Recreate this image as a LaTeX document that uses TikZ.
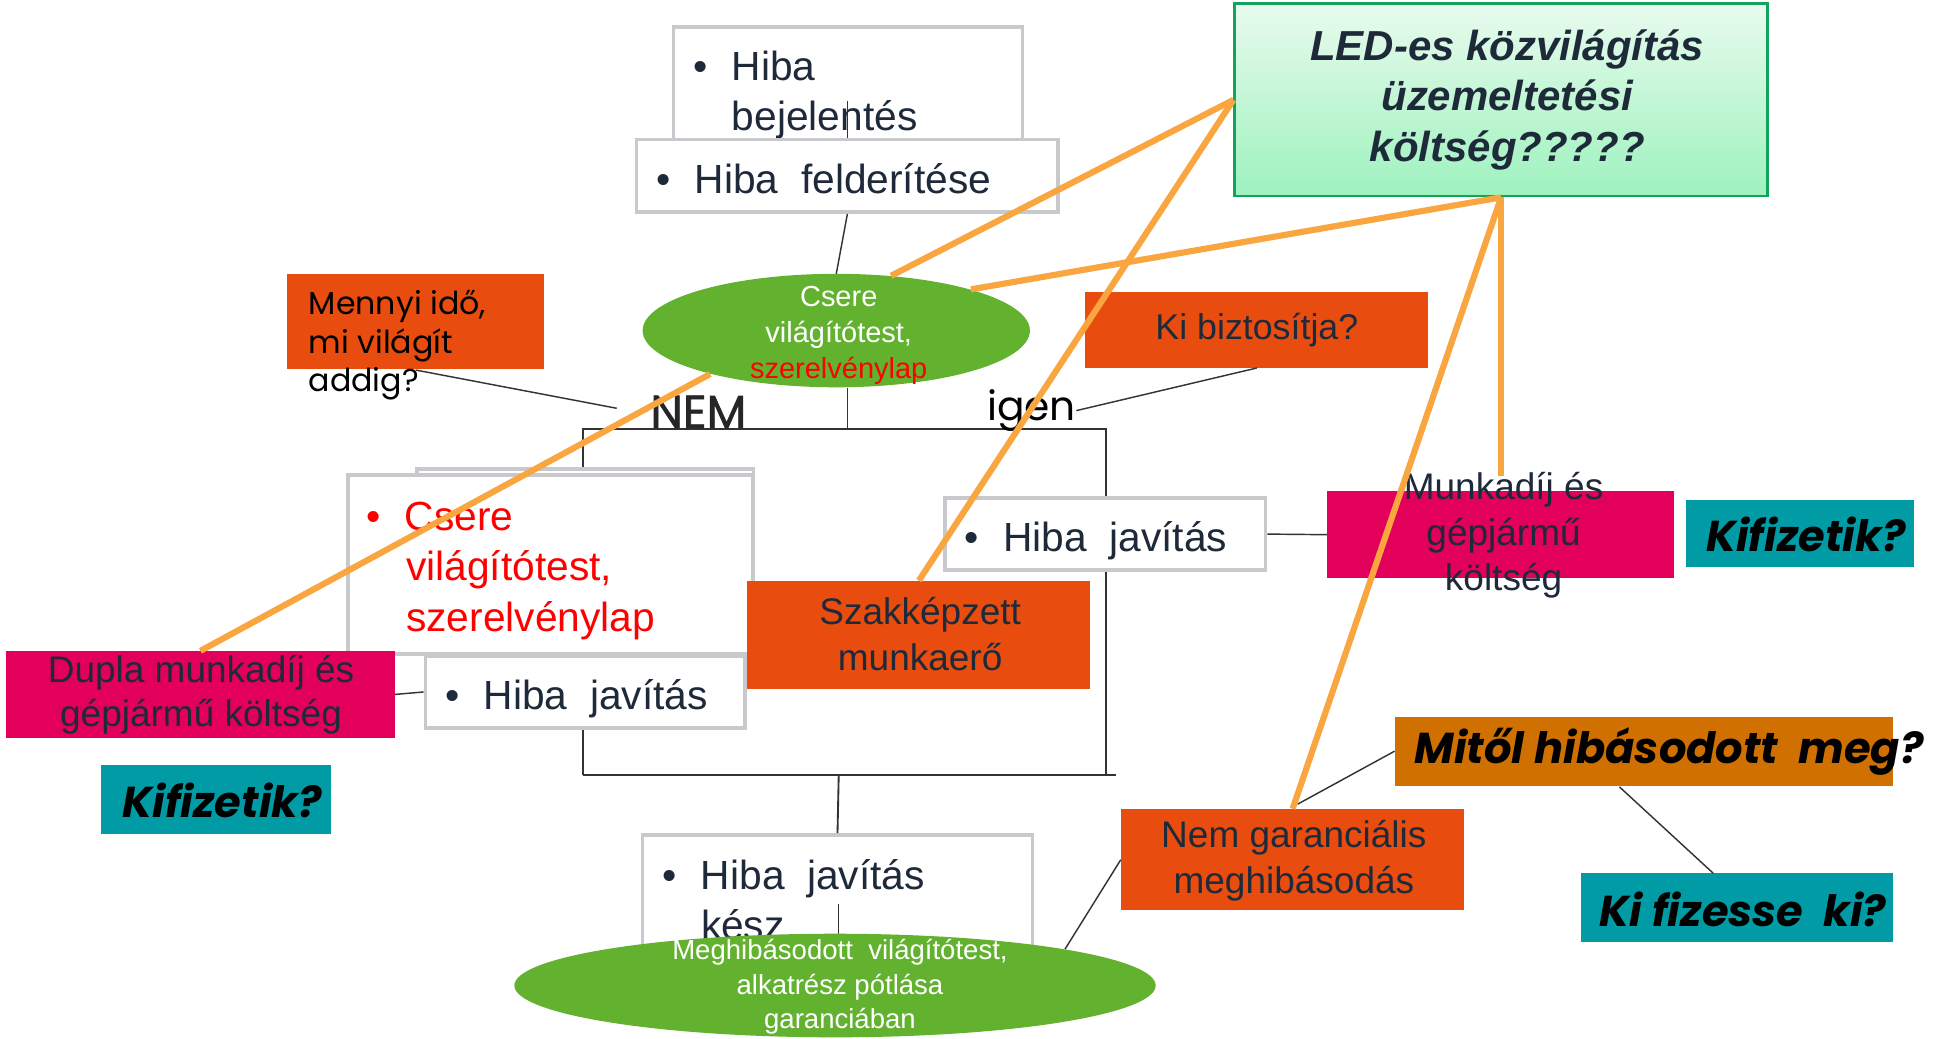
\documentclass[tikz,border=0pt]{standalone}
\usepackage{fontspec}
\setmainfont{Liberation Sans}
\newfontfamily\mont{Poppins}
\newfontfamily\montsb[FakeBold=1.2]{Poppins}
\usetikzlibrary{fit,shapes.geometric}
\definecolor{orred}{HTML}{E84C0E}
\definecolor{pinkc}{HTML}{E3005A}
\definecolor{tealc}{HTML}{009BA5}
\definecolor{brownor}{HTML}{CF7000}
\definecolor{greenc}{HTML}{63B22F}
\definecolor{orline}{HTML}{F9A640}
\definecolor{boxgray}{HTML}{C8C9CC}
\definecolor{navy}{HTML}{1E2A3A}
\definecolor{ledgreen}{HTML}{12A35C}
\definecolor{ledtop}{HTML}{E8FBEE}
\definecolor{ledbot}{HTML}{9EF2BE}
\definecolor{redtxt}{HTML}{FF0000}
\definecolor{nemc}{HTML}{262626}
\definecolor{darkline}{HTML}{333333}
\newcommand\bul{\makebox[18.6pt][l]{•}}
\tikzset{
  gbox/.style={draw=boxgray,line width=1.8pt,fill=white,inner sep=0pt},
  cbox/.style={fill=#1,inner sep=0pt},
  btxt/.style={anchor=base west,inner sep=0pt,text=navy,font=\fontsize{19.8}{24.6}\selectfont},
  ctxt/.style={inner sep=0pt,align=center,text=navy,font=\fontsize{18}{22.2}\selectfont},
  qtxt/.style={inner sep=0pt,text=black,font=\mont\bfseries\itshape\fontsize{21}{24}\selectfont},
  oline/.style={draw=orline,line width=3pt},
  tline/.style={draw=darkline,line width=0.7pt},
  bline/.style={draw=darkline,line width=0.9pt},
}
\begin{document}
\begin{tikzpicture}[x=0.6pt,y=-0.6pt]
\useasboundingbox[fill=white] (0,0) rectangle (1568,842);

% bracket
\coordinate (bTL) at (473,348);
\coordinate (bTR) at (897,348);
\coordinate (bBL) at (473,628);
\coordinate (bBR) at (905,628);
\coordinate (bRB) at (897,628);
\draw[bline] (bBL) -- (bTL) -- (bTR) -- (bRB);
\draw[bline] (bBL) -- (bBR);

% top boxes
\node[gbox,fit={(546,22)(829,125)}] (boxA) {};
\node[btxt] (tA1) at (562,65) {\bul Hiba};
\node[btxt] (tA2) at (593,106) {bejelentés};
\coordinate (vA) at (687,82);
\draw[tline] (vA) -- (vA |- boxA.south);
\node[gbox,fit={(516,113)(858,172)}] (boxB) {};
\node[btxt] (tB) at (532,157) {\bul Hiba~~felderítése};

% ellipse 1
\draw[tline] (boxB.south -| vA) -- (678,222);
\node[ellipse,fill=greenc,minimum width=188.4pt,minimum height=55.2pt,inner sep=0pt] (e1) at (678,268) {};
\draw[tline] (e1.south -| vA) -- (bTL -| vA);
\node[inner sep=0pt,align=center,text=white,font=\fontsize{14.1}{17.4}\selectfont] (e1t) at (680,272) {Csere\\világítótest,\\\textcolor{redtxt}{szerelvénylap}};

% NEM, igen
\node[inner sep=0pt,anchor=base west,font=\montsb\fontsize{22.5}{24}\selectfont,text=nemc] (nem) at (527,347) {NEM};
\node[inner sep=0pt,anchor=base west,font=\mont\fontsize{19.8}{22}\selectfont,text=black] (igen) at (800,341) {igen};

% Mennyi
\node[cbox=orred,fit={(233,222)(441,299)}] (mennyi) {};
\node[inner sep=0pt,anchor=west,align=left,font=\mont\fontsize{15.4}{18.6}\selectfont,text=black] (mennyiT) at (250,280) {Mennyi idő,\\mi világít\\addig?};
\coordinate (mq) at (337,300);
\coordinate (nemL) at (500,331);
\draw[tline] (mq) -- (nemL);

% Ki biztositja
\node[cbox=orred,fit={(880,237)(1158,298)}] (kib) {};
\node[ctxt,font=\fontsize{17.4}{20}\selectfont] (kibT) at (kib.center) {Ki biztosítja?};
\draw[tline] (igen.east) -- (kib.south);

% LED
\node[fit={(1001,3)(1433,159)},inner sep=0pt,draw=ledgreen,line width=1.2pt,top color=ledtop,bottom color=ledbot] (led) {};
\node[inner sep=0pt,align=center,text=navy,font=\bfseries\itshape\fontsize{20.4}{24.6}\selectfont] (ledT) at (1222,81) {LED-es közvilágítás\\üzemeltetési\\költség?????};

% Csere box
\node[gbox,fit={(338,380)(611,470)}] (csereBk) {};
\node[gbox,fit={(282,385)(610,530)}] (csereB) {};
\node[btxt,text=redtxt] (cT1) at (297,430) {\bul Csere};
\node[btxt,text=redtxt] (cT2) at (329,471) {világítótest,};
\node[btxt,text=redtxt] (cT3) at (329,512) {szerelvénylap};

% Hiba javitas left
\node[gbox,fit={(345,532)(604,590)}] (hjL) {};
\node[btxt] (hjLT) at (361,575) {\bul Hiba~~javítás};

% Dupla
\node[cbox=pinkc,fit={(5,528)(320,598)}] (dupla) {};
\node[ctxt,font=\fontsize{18}{21.6}\selectfont] (duplaT) at (163,563) {Dupla munkadíj és\\gépjármű költség};
\draw[tline] (dupla.east) -- (hjL.west);

% Kifizetik left
\node[cbox=tealc,fit={(82,620)(268,676)}] (kif1) {};
\node[qtxt] (kif1T) at (180,649) {Kifizetik?};

% Szakkepzett
\node[cbox=orred,fit={(606,471)(884,559)}] (szak) {};
\node[ctxt] (szakT) at (746,514) {Szakképzett\\munkaerő};

% Hiba javitas right
\node[gbox,fit={(766,404)(1026,462)}] (hjR) {};
\node[btxt] (hjRT) at (782,447) {\bul Hiba~~javítás};

% Munkadij
\node[cbox=pinkc,fit={(1076,398)(1357,469)}] (munk) {};
\node[ctxt] (munkT) at (1219,434) {Munkadíj és\\gépjármű\\költség};
\draw[tline] (hjR.east) -- (munk.west);

% Kifizetik right
\node[cbox=tealc,fit={(1367,405)(1552,460)}] (kif2) {};
\node[qtxt] (kif2T) at (1464,433) {Kifizetik?};

% Mitol
\node[cbox=brownor,fit={(1131,581)(1535,637)}] (mitol) {};
\node[qtxt] (mitolT) at (1353,609) {Mitől hibásodott~~meg?};

% Ki fizesse ki
\node[cbox=tealc,fit={(1282,708)(1535,764)}] (kfk) {};
\node[qtxt] (kfkT) at (1413,737) {Ki fizesse~~ki?};
\coordinate (mitB) at (1313,638);
\coordinate (kfkTop) at (1389,708);
\draw[tline] (mitB) -- (kfkTop);

% Nem garancialis
\node[cbox=orred,fit={(909,656)(1187,738)}] (nemgar) {};
\node[ctxt] (nemgarT) at (1049,698) {Nem garanciális\\meghibásodás};
\coordinate (ngTop) at (1052,652);
\draw[tline] (ngTop) -- (mitol.west);

% kesz box
\node[gbox,fit={(521,677)(837,790)}] (kesz) {};
\node[btxt] (keszT1) at (537,721) {\bul Hiba~~javítás};
\node[btxt] (keszT2) at (568,762) {kész};
\coordinate (bBm) at (680,628);
\draw[bline] (bBm) -- (kesz.north);
\coordinate (kv) at (680,733);
\draw[tline] (kv) -- (680,760);

% ellipse 2
\node[ellipse,fill=greenc,minimum width=312pt,minimum height=50.4pt,inner sep=0pt] (e2) at (677,799) {};
\node[inner sep=0pt,align=center,text=white,font=\fontsize{13.4}{16.8}\selectfont] (e2T) at (681,800) {Meghibásodott~~világítótest,\\alkatrész pótlása\\garanciában};
\draw[tline] (nemgar.west) -- (e2.9);

% orange lines
\coordinate (munkTop) at (1217,386);
\draw[oline] (led.west) -- (e1.45);
\draw[oline] (led.west) -- (szak.north);
\draw[oline] (led.south) -- (e1.17);
\draw[oline] (led.south) -- (nemgar.north);
\draw[oline] (led.south) -- (munkTop);
\draw[oline] (e1.199) -- (dupla.north);
\end{tikzpicture}
\end{document}
